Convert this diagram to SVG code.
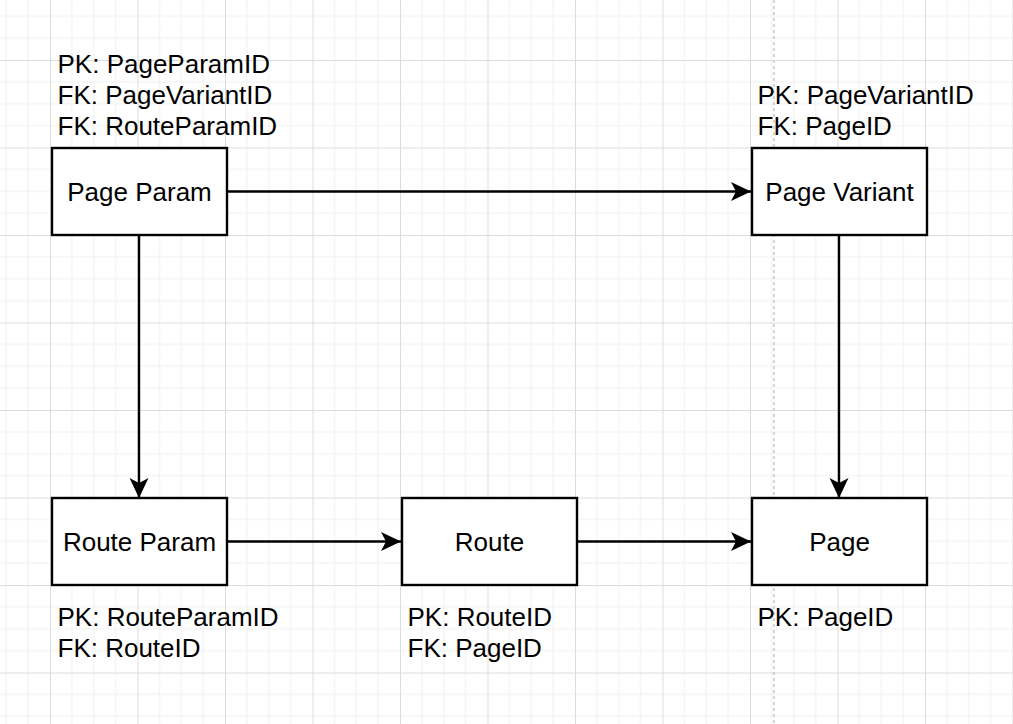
<svg xmlns="http://www.w3.org/2000/svg" width="1013" height="724" viewBox="0 0 1013 724">
  <defs>
    <pattern id="grid" x="50" y="60" width="87.5" height="87.5" patternUnits="userSpaceOnUse">
      <path d="M21.875 0V87.5M43.75 0V87.5M65.625 0V87.5M0 21.875H87.5M0 43.75H87.5M0 65.625H87.5" stroke="#f0f0f0" stroke-width="1" fill="none"/>
      <path d="M0.5 0V87.5M0 0.5H87.5" stroke="#dcdcdc" stroke-width="1" fill="none"/>
    </pattern>
    <marker id="arrow" viewBox="0 0 21 20" refX="20" refY="10" markerWidth="21" markerHeight="20" markerUnits="userSpaceOnUse" orient="auto">
      <path d="M20 10 L0 0.5 L5 10 L0 19.5 Z" fill="#000"/>
    </marker>
  </defs>
  <style>
    .box { fill: #fff; stroke: #000; stroke-width: 2.4; }
    .title { font-family: "Liberation Sans", Arial, sans-serif; font-size: 26px; fill: #000; text-anchor: middle; }
    .lbl { font-family: "Liberation Sans", Arial, sans-serif; font-size: 26px; fill: #000; }
    .edge { fill: none; stroke: #000; stroke-width: 2.4; marker-end: url(#arrow); }
  </style>
  <rect width="1013" height="724" fill="#fff"/>
  <rect width="1013" height="724" fill="url(#grid)"/>
  <line x1="774" y1="0" x2="774" y2="724" stroke="#c8c8c8" stroke-width="1.5" stroke-dasharray="3 3"/>

  <g id="connectors">
    <line class="edge" x1="227" y1="191.5" x2="751" y2="191.5"/>
    <line class="edge" x1="139" y1="236" x2="139" y2="498"/>
    <line class="edge" x1="839" y1="236" x2="839" y2="498"/>
    <line class="edge" x1="227" y1="541.5" x2="401" y2="541.5"/>
    <line class="edge" x1="577" y1="541.5" x2="751" y2="541.5"/>
  </g>

  <g id="page-param">
    <rect class="box" x="52" y="148" width="175" height="87"/>
    <text class="title" x="139.5" y="200.5">Page Param</text>
    <text class="lbl" x="57.5" y="72.5">PK: PageParamID</text>
    <text class="lbl" x="57.5" y="104">FK: PageVariantID</text>
    <text class="lbl" x="57.5" y="135">FK: RouteParamID</text>
  </g>

  <g id="page-variant">
    <rect class="box" x="752" y="148" width="175" height="87"/>
    <text class="title" x="839.5" y="200.5">Page Variant</text>
    <text class="lbl" x="757.5" y="104">PK: PageVariantID</text>
    <text class="lbl" x="757.5" y="135">FK: PageID</text>
  </g>

  <g id="route-param">
    <rect class="box" x="52" y="498" width="175" height="87"/>
    <text class="title" x="139.5" y="550.5">Route Param</text>
    <text class="lbl" x="57.5" y="625.5">PK: RouteParamID</text>
    <text class="lbl" x="57.5" y="657">FK: RouteID</text>
  </g>

  <g id="route">
    <rect class="box" x="402" y="498" width="175" height="87"/>
    <text class="title" x="489.5" y="550.5">Route</text>
    <text class="lbl" x="407.5" y="625.5">PK: RouteID</text>
    <text class="lbl" x="407.5" y="657">FK: PageID</text>
  </g>

  <g id="page">
    <rect class="box" x="752" y="498" width="175" height="87"/>
    <text class="title" x="839.5" y="550.5">Page</text>
    <text class="lbl" x="757.5" y="625.5">PK: PageID</text>
  </g>
</svg>
